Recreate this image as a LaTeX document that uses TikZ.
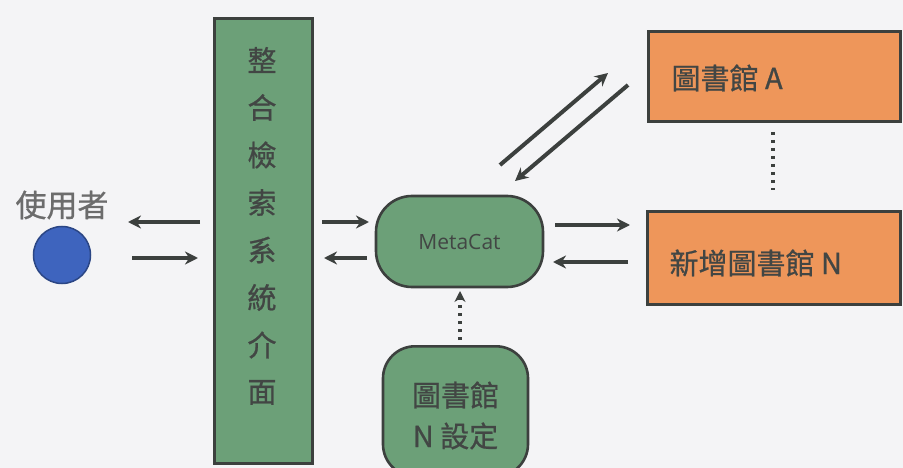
\documentclass[tikz,border=0pt]{standalone}
\usepackage{fontspec}
\newfontfamily\cjk[FakeBold=0.8]{Noto Sans CJK TC}
\setsansfont{Open Sans}
\usetikzlibrary{arrows.meta}
\definecolor{bg}{RGB}{244,244,246}
\definecolor{grn}{RGB}{108,160,120}
\definecolor{org}{RGB}{238,150,90}
\definecolor{edge}{RGB}{60,64,62}
\definecolor{txt}{RGB}{66,70,68}
\definecolor{blu}{RGB}{62,100,190}
\tikzset{
  arr/.style={draw=edge, line width=4pt, -{Stealth[length=13pt,width=13pt]}},
  dotarr/.style={draw=edge, line width=3.8pt, dash pattern=on 3pt off 5pt},
  grnbox/.style={draw=edge, line width=2.6pt, fill=grn, text=txt},
  orgbox/.style={draw=edge, line width=2.6pt, fill=org, text=txt},
  lbl/.style={text=txt, font=\cjk\fontsize{29}{32}\selectfont}
}
\begin{document}
\begin{tikzpicture}[x=1pt,y=-1pt]
\fill[bg] (0,0) rectangle (903,468);
\useasboundingbox (0,0) rectangle (903,468);

% user
\node[lbl, text=gray!85!black, font=\cjk\fontsize{31}{34}\selectfont] (ulbl) at (62,205) {使用者};
\node[circle, fill=blu, draw=blu!70!black, line width=1.5pt, minimum size=57pt, inner sep=0pt] (user) at (62,255) {};

% integrated search interface
\node[grnbox, minimum width=98pt, minimum height=445pt, inner sep=0pt, anchor=north west] (ui) at (213,17) {};
\foreach \c [count=\i] in {整,合,檢,索,系,統,介,面}{
  \node[lbl] (ch\i) at (262,{60+47.5*(\i-1)}) {\c};
}

% MetaCat
\node[grnbox, rounded corners=36pt, minimum width=167pt, minimum height=91pt, inner sep=0pt,
      font=\sffamily\fontsize{21}{24}\selectfont] (meta) at (459.5,241.5) {MetaCat};

% bottom setup box
\node[grnbox, rounded corners=32pt, minimum width=145pt, minimum height=130pt, inner sep=0pt, anchor=north] (setup) at (455.5,345) {};
\node[lbl] (s1) at (455.5,395) {圖書館};
\node[lbl] (s2) at (455.5,436) {N 設定};

% libraries
\node[orgbox, minimum width=252pt, minimum height=90pt, inner sep=0pt, anchor=north west] (libA) at (647,30) {};
\node[lbl, anchor=west] (libAt) at (668,78) {圖書館 A};
\node[orgbox, minimum width=253pt, minimum height=93pt, inner sep=0pt, anchor=north west] (libN) at (646,210) {};
\node[lbl, anchor=west] (libNt) at (666,263) {新增圖書館 N};

% coordinates for free arrow ends
\coordinate (a1s) at (200,222); \coordinate (a1e) at (128,222);
\coordinate (a2s) at (132,258); \coordinate (a2e) at (198,258);
\coordinate (b1s) at (322,222); \coordinate (b1e) at (369,222);
\coordinate (b2s) at (367,258); \coordinate (b2e) at (324,258);
\coordinate (c1s) at (555,225); \coordinate (c1e) at (630,225);
\coordinate (c2s) at (628,262); \coordinate (c2e) at (553,262);
\coordinate (d1s) at (500,165); \coordinate (d1e) at (608,73);
\coordinate (d2s) at (628,85);  \coordinate (d2e) at (515,181);
\coordinate (vs) at (773,132);  \coordinate (ve) at (773,190);
\coordinate (us) at (460,340);  \coordinate (ue) at (460,291);

\draw[arr] (a1s) -- (a1e);
\draw[arr] (a2s) -- (a2e);
\draw[arr] (b1s) -- (b1e);
\draw[arr] (b2s) -- (b2e);
\draw[arr] (c1s) -- (c1e);
\draw[arr] (c2s) -- (c2e);
\draw[arr] (d1s) -- (d1e);
\draw[arr] (d2s) -- (d2e);
\draw[dotarr] (vs) -- (ve);
\draw[dotarr, -{Stealth[length=11pt,width=11pt]}] (us) -- (ue);
\end{tikzpicture}
\end{document}
